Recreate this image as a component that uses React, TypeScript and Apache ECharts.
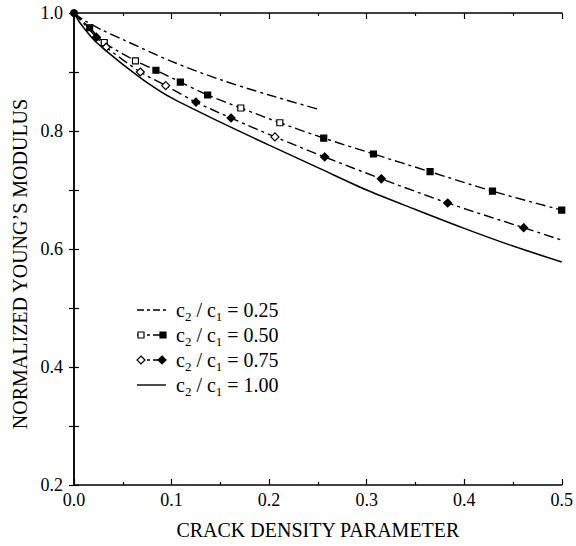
import React, { useEffect, useRef } from "react";
import * as echarts from "echarts";

const xTicks = [0, 0.1, 0.2, 0.3, 0.4, 0.5];

// c2/c1 = 0.25 (dash-dot, no markers)
const s025X = [0, 0.01, 0.03, 0.05, 0.1, 0.15, 0.2, 0.25];
const s025Y = [1.0, 0.988, 0.97, 0.955, 0.918, 0.887, 0.861, 0.837];

// c2/c1 = 0.50 (square markers; open = 1, filled = 0)
const s050X = [0, 0.016, 0.031, 0.063, 0.084, 0.109, 0.137, 0.171, 0.211, 0.256, 0.307, 0.365, 0.429, 0.5];
const s050Y = [1.0, 0.975, 0.95, 0.919, 0.903, 0.883, 0.861, 0.839, 0.814, 0.788, 0.761, 0.731, 0.698, 0.666];
const s050Open = [0, 0, 1, 1, 0, 0, 0, 1, 1, 0, 0, 0, 0, 0];

// c2/c1 = 0.75 (diamond markers)
const s075X = [0, 0.023, 0.033, 0.068, 0.094, 0.125, 0.161, 0.206, 0.257, 0.315, 0.383, 0.461, 0.5];
const s075Y = [1.0, 0.959, 0.942, 0.9, 0.877, 0.849, 0.822, 0.79, 0.756, 0.719, 0.678, 0.636, 0.615];
const s075Open = [0, 0, 1, 1, 1, 0, 0, 1, 0, 0, 0, 0, -1];

// c2/c1 = 1.00 (solid)
const s100X = [0, 0.005, 0.01, 0.02, 0.03, 0.05, 0.075, 0.1, 0.15, 0.2, 0.25, 0.3, 0.35, 0.4, 0.45, 0.5];
const s100Y = [1.0, 0.986, 0.975, 0.955, 0.94, 0.913, 0.882, 0.856, 0.815, 0.776, 0.738, 0.7, 0.667, 0.635, 0.605, 0.578];

const legendLabels = ["0.25", "0.50", "0.75", "1.00"];

const FONT = "Liberation Serif";
const DASH = [10, 4, 3, 4];

function markerItems(xs: number[], ys: number[], open: number[], symbol: string, size: number[]) {
  return xs.map((x, i) => {
    if (i === 0 || open[i] < 0) return { value: [x, ys[i]], symbol: "none" };
    return {
      value: [x, ys[i]],
      symbol,
      symbolSize: size,
      itemStyle: { color: open[i] ? "#fff" : "#000", borderColor: "#000", borderWidth: 1.2 },
    };
  });
}

export default function App() {
  const ref = useRef<HTMLDivElement>(null);
  useEffect(() => {
    if (!ref.current) return;
    const chart = echarts.init(ref.current, null, { renderer: "svg" });
    const axisCommon = {
      axisLine: { show: true, lineStyle: { color: "#000", width: 1.5 } },
      splitLine: { show: false },
    };
    const lx0 = 137, lx1 = 166, tx = 176;
    const rows = [310, 335, 360, 385];
    const graphics: any[] = [];
    legendLabels.forEach((lab, i) => {
      const y = rows[i];
      graphics.push({
        type: "line",
        shape: { x1: lx0, y1: y, x2: lx1, y2: y },
        style: { stroke: "#000", lineWidth: 1.4, lineDash: i === 3 ? null : [7, 3, 3, 3] },
      });
      if (i === 1) {
        graphics.push({ type: "rect", shape: { x: lx0 + 1, y: y - 3, width: 6, height: 6 }, style: { fill: "#fff", stroke: "#000", lineWidth: 1.2 } });
        graphics.push({ type: "rect", shape: { x: lx1 - 6, y: y - 3, width: 6, height: 6 }, style: { fill: "#000", stroke: "#000", lineWidth: 1.2 } });
      }
      if (i === 2) {
        graphics.push({ type: "polygon", shape: { points: [[lx0 + 4, y - 4], [lx0 + 8, y], [lx0 + 4, y + 4], [lx0, y]] }, style: { fill: "#fff", stroke: "#000", lineWidth: 1.2 } });
        graphics.push({ type: "polygon", shape: { points: [[lx1 - 4, y - 4], [lx1, y], [lx1 - 4, y + 4], [lx1 - 8, y]] }, style: { fill: "#000", stroke: "#000", lineWidth: 1.2 } });
      }
      graphics.push({
        type: "text",
        x: tx,
        y: y,
        style: {
          text: "{m|c}{s|2}{m| / c}{s|1}{m| = " + lab + "}",
          verticalAlign: "middle",
          rich: {
            m: { fontFamily: FONT, fontSize: 20, lineHeight: 26, fill: "#000", color: "#000" },
            s: { fontFamily: FONT, fontSize: 13, lineHeight: 11, verticalAlign: "bottom", fill: "#000", color: "#000" },
          },
        },
      });
    });

    chart.setOption({
      animation: false,
      backgroundColor: "#fff",
      grid: { left: 74, right: 9, top: 13, bottom: 61 },
      xAxis: [
        {
          type: "value",
          min: 0,
          max: 0.5,
          interval: 0.1,
          ...axisCommon,
          axisTick: { show: true, inside: true, length: 6, lineStyle: { color: "#000", width: 1.2 } },
          minorTick: { show: true, splitNumber: 2, length: 3, lineStyle: { color: "#000", width: 1.2 } },
          axisLabel: { fontFamily: FONT, fontSize: 18, color: "#000", margin: 6, formatter: (v: number) => v.toFixed(1) },
          name: "CRACK DENSITY PARAMETER",
          nameLocation: "middle",
          nameGap: 35,
          nameTextStyle: { fontFamily: FONT, fontSize: 20, color: "#000" },
        },
        {
          type: "value",
          position: "top",
          min: 0,
          max: 0.5,
          interval: 0.1,
          ...axisCommon,
          axisTick: { show: true, inside: true, length: 6, lineStyle: { color: "#000", width: 1.2 } },
          minorTick: { show: true, splitNumber: 2, length: 3, lineStyle: { color: "#000", width: 1.2 } },
          axisLabel: { show: false },
        },
      ],
      yAxis: [
        {
          type: "value",
          min: 0.2,
          max: 1.0,
          interval: 0.1,
          ...axisCommon,
          axisTick: { show: true, inside: true, length: 5, lineStyle: { color: "#000", width: 1.2 } },
          axisLabel: {
            fontFamily: FONT,
            fontSize: 18,
            color: "#000",
            margin: 11,
            formatter: (v: number) => (Math.round(v * 10) % 2 === 0 ? v.toFixed(1) : ""),
          },
          name: "NORMALIZED YOUNG\u2019S MODULUS",
          nameLocation: "middle",
          nameGap: 44,
          nameTextStyle: { fontFamily: FONT, fontSize: 20, color: "#000", padding: [0, 30, 0, 0] },
        },
        {
          type: "value",
          position: "right",
          min: 0.2,
          max: 1.0,
          interval: 0.1,
          ...axisCommon,
          axisTick: { show: true, inside: true, length: 5, lineStyle: { color: "#000", width: 1.2 } },
          axisLabel: { show: false },
        },
      ],
      series: [
        {
          name: "0.25",
          type: "line",
          smooth: 0.3,
          symbol: "none",
          data: s025X.map((x, i) => [x, s025Y[i]]),
          lineStyle: { color: "#000", width: 1.4, type: DASH },
        },
        {
          name: "0.50",
          type: "line",
          smooth: 0.3,
          symbol: "rect",
          showSymbol: true,
          data: markerItems(s050X, s050Y, s050Open, "rect", [6, 6]),
          lineStyle: { color: "#000", width: 1.4, type: DASH },
          z: 3,
        },
        {
          name: "0.75",
          type: "line",
          smooth: 0.3,
          symbol: "diamond",
          showSymbol: true,
          data: markerItems(s075X, s075Y, s075Open, "diamond", [8, 8]),
          lineStyle: { color: "#000", width: 1.4, type: DASH },
          z: 3,
        },
        {
          name: "1.00",
          type: "line",
          smooth: 0.3,
          symbol: "none",
          showSymbol: true,
          data: s100X.map((x, i) =>
            i === 0
              ? { value: [x, s100Y[i]], symbol: "circle", symbolSize: 8, itemStyle: { color: "#000" } }
              : { value: [x, s100Y[i]] }
          ),
          lineStyle: { color: "#000", width: 1.5, type: "solid" },
          z: 4,
        },
      ],
      graphic: graphics,
    });
    return () => chart.dispose();
  }, []);
  return <div ref={ref} style={{ width: 576, height: 546, position: "absolute", left: 0, top: 0 }} />;
}
